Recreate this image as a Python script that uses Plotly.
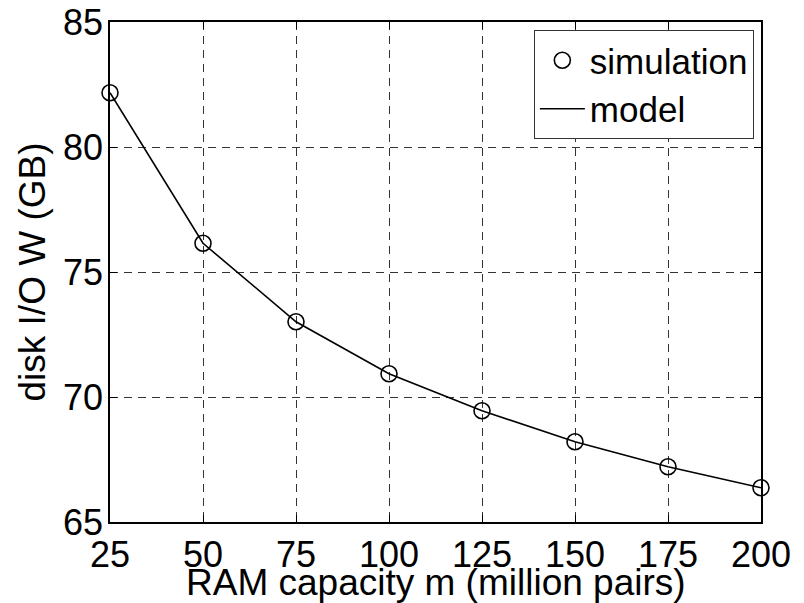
import plotly.graph_objects as go

ram_capacity = [25, 50, 75, 100, 125, 150, 175, 200]
disk_io_sim = [82.17, 76.15, 73.01, 70.93, 69.45, 68.21, 67.21, 66.37]
disk_io_model = [82.17, 76.15, 73.01, 70.93, 69.45, 68.21, 67.21, 66.37]
x_ticks = [25, 50, 75, 100, 125, 150, 175, 200]
y_ticks = [65, 70, 75, 80, 85]
x_title = "RAM capacity m (million pairs)"
y_title = "disk I/O W (GB)"

FONT = "Liberation Sans, Arial, Helvetica, sans-serif"

fig = go.Figure()
fig.add_trace(go.Scatter(
    x=ram_capacity, y=disk_io_sim, mode="markers", name="simulation",
    marker=dict(symbol="circle-open", size=16, color="black", line=dict(width=1.6, color="black")),
    cliponaxis=False,
))
fig.add_trace(go.Scatter(
    x=ram_capacity, y=disk_io_model, mode="lines", name="model",
    line=dict(color="black", width=1.6),
    cliponaxis=False,
))

axis_common = dict(
    showline=True, linecolor="black", linewidth=1.6, mirror="ticks",
    ticks="inside", ticklen=7, tickwidth=1.2, tickcolor="black",
    showgrid=True, gridcolor="#333333", gridwidth=1, griddash="8px,6px",
    zeroline=False, automargin=False, ticklabeloverflow="allow",
    tickfont=dict(family=FONT, size=36, color="black"),
)

fig.update_xaxes(
    range=[25, 200], tickvals=x_ticks, ticktext=[str(v) for v in x_ticks],
    **axis_common,
)
fig.update_yaxes(
    range=[65, 85], tickvals=y_ticks, ticktext=[str(v) for v in y_ticks],
    title=dict(text=y_title, font=dict(family=FONT, size=37, color="black"), standoff=6),
    ticklabelstandoff=-2,
    **axis_common,
)

L, T, PW, PH = 102, 14, 651, 500
W, H = 796, 595
fig.update_layout(
    width=W, height=H,
    margin=dict(l=L, r=W - L - PW, t=T, b=H - T - PH, autoexpand=False),
    paper_bgcolor="white", plot_bgcolor="white",
    font=dict(family=FONT, color="black"),
    legend=dict(
        x=0.989, y=0.984, xanchor="right", yanchor="top",
        bgcolor="white", bordercolor="#333333", borderwidth=1,
        font=dict(family=FONT, size=35, color="black"),
        itemwidth=45, tracegroupgap=0,
    ),
    showlegend=True,
    annotations=[
        dict(text=x_title, xref="paper", yref="paper", x=0.5, y=-0.076,
             xanchor="center", yanchor="top", showarrow=False,
             font=dict(family=FONT, size=37, color="black")),
    ],
)

fig.write_html("out.html")
